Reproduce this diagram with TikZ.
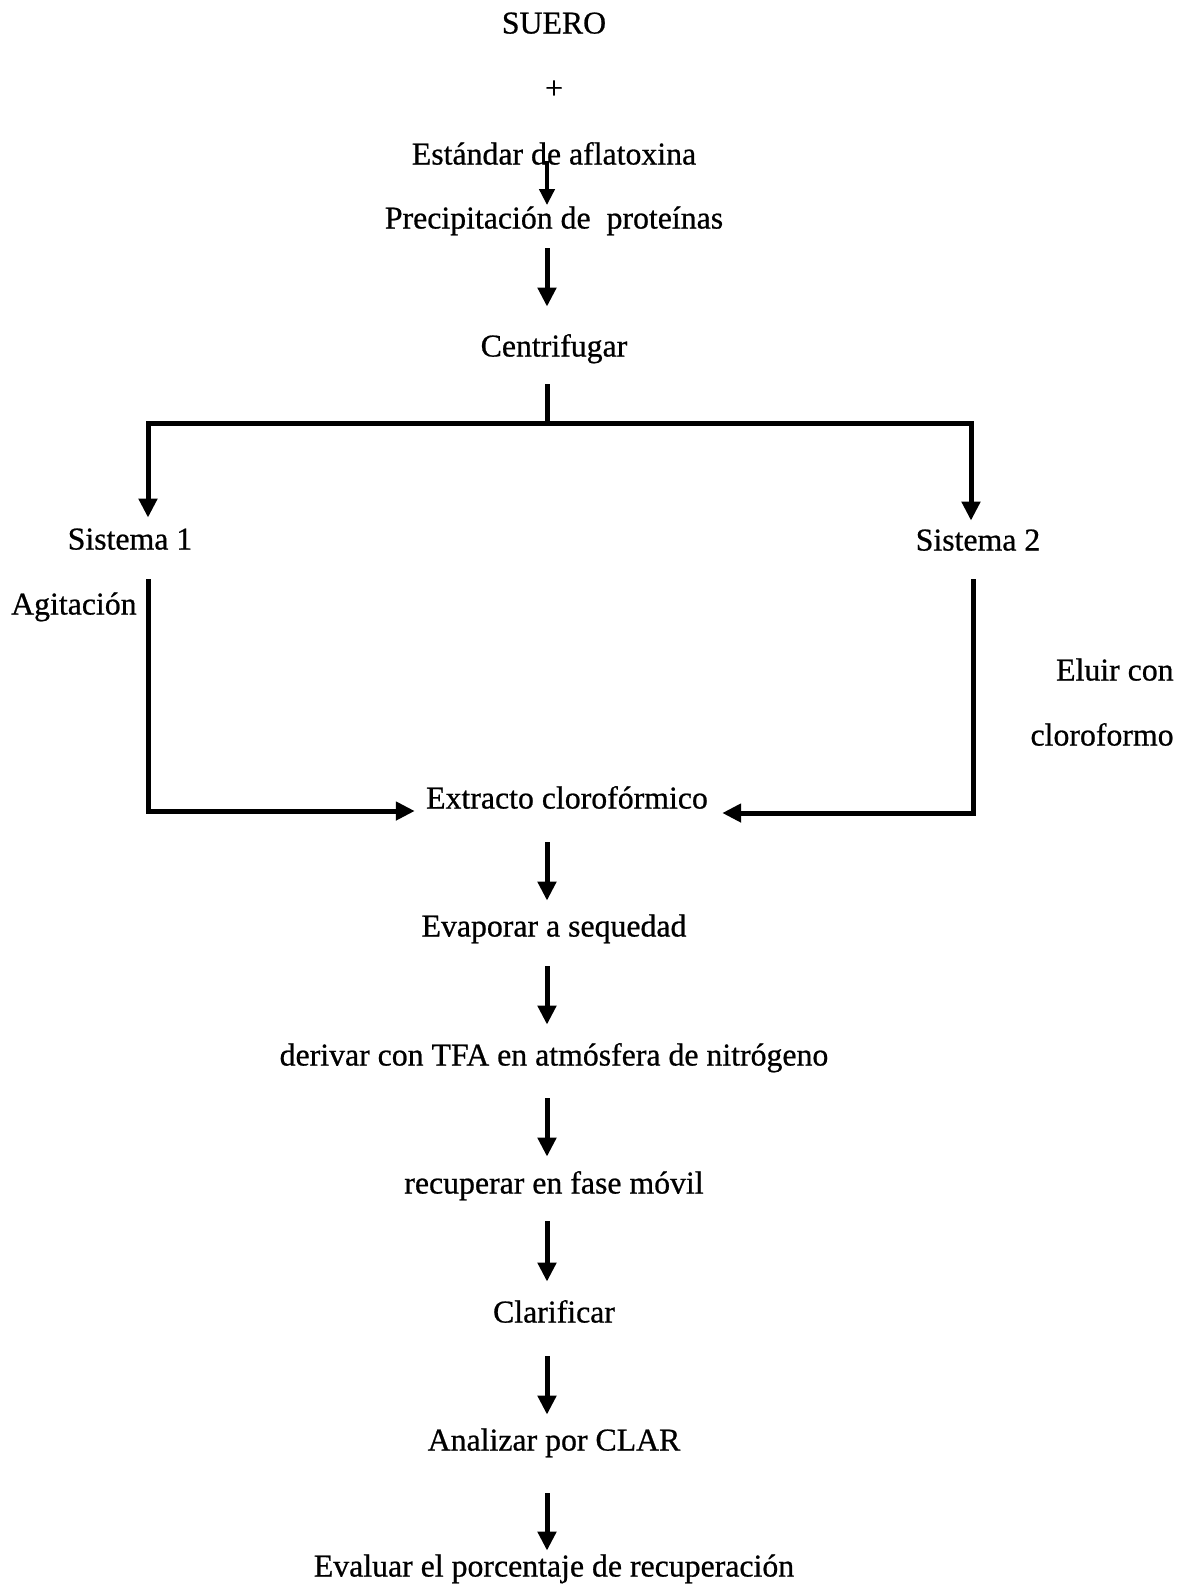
\documentclass[tikz,border=0pt]{standalone}
\usepackage{fontspec}
\setmainfont{Liberation Serif}[FakeBold=0.7]
\usetikzlibrary{arrows.meta}
\begin{document}
\begin{tikzpicture}[x=0.5pt,y=-0.5pt,
  lbl/.style={inner sep=0pt, text height=10.5pt, text depth=0pt, font=\fontsize{15.9pt}{19pt}\selectfont},
  line/.style={line width=2.5pt},
  arr/.style={line width=2.5pt, -{Triangle[width=9pt,length=9.5pt]}},
  arrboth/.style={line width=2.5pt, {Triangle[width=9pt,length=9.5pt]}-{Triangle[width=9pt,length=9.5pt]}},
  sarr/.style={line width=2pt, -{Triangle[width=7.5pt,length=8pt]}}
]
\useasboundingbox (0,0) rectangle (1193,1586);
\fill[white] (0,0) rectangle (1193,1586);

\node[lbl] (suero) at (554,23) {SUERO};
\node[lbl] (plus) at (554,88) {+};
\node[lbl] (est) at (554,154) {Estándar de aflatoxina};
\node[lbl] (prec) at (554,218) {Precipitación de\ \ proteínas};
\node[lbl] (cent) at (554,346) {Centrifugar};
\node[lbl] (s1) at (130,539) {Sistema 1};
\node[lbl] (s2) at (978,540) {Sistema 2};
\node[lbl,anchor=east] (agit) at (137,604) {Agitación};
\node[lbl,anchor=east] (eluir) at (1174,670) {Eluir con};
\node[lbl,anchor=east] (cloro) at (1174,735) {cloroformo};
\node[lbl] (ext) at (567,798) {Extracto clorofórmico};
\node[lbl] (evap) at (554,926) {Evaporar a sequedad};
\node[lbl] (deriv) at (554,1055) {derivar con TFA en atmósfera de nitrógeno};
\node[lbl] (recup) at (554,1183) {recuperar en fase móvil};
\node[lbl] (clar) at (554,1312) {Clarificar};
\node[lbl] (anal) at (554,1440) {Analizar por CLAR};
\node[lbl] (eval) at (554,1566) {Evaluar el porcentaje de recuperación};

\coordinate (jc) at (547,423);
\coordinate (jl) at (148,423);
\coordinate (jr) at (971,423);
\coordinate (l1) at (148,579);
\coordinate (l2) at (148,811);
\coordinate (r1) at (973,579);
\coordinate (r2) at (973,813);

\draw[sarr, shorten <=-2pt, shorten >=1pt] ([xshift=-3.5pt]est.south) -- ([xshift=-3.5pt]prec.north);
\draw[arr, shorten <=9.75pt, shorten >=14.25pt] ([xshift=-3.5pt]prec.south) -- ([xshift=-3.5pt]cent.north);
\draw[line, shorten <=13.75pt] ([xshift=-3.5pt]cent.south) -- (jc);
\draw[arrboth, shorten <=5.25pt, shorten >=4.25pt] (jl |- s1.north) -- (jl) -- (jr) -- (jr |- s2.north);
\draw[arr, shorten >=5.5pt] (l1) -- (l2) -- (l2 -| ext.west);
\draw[arr, shorten >=7pt] (r1) -- (r2) -- (r2 -| ext.east);
\draw[arr, shorten <=16.75pt, shorten >=7.25pt] ([xshift=-10pt]ext.south) -- ([xshift=-3.5pt]evap.north);
\draw[arr, shorten <=14.75pt, shorten >=9.75pt] ([xshift=-3.5pt]evap.south) -- ([xshift=-3.5pt]deriv.north);
\draw[arr, shorten <=16.25pt, shorten >=7.75pt] ([xshift=-3.5pt]deriv.south) -- ([xshift=-3.5pt]recup.north);
\draw[arr, shorten <=13.75pt, shorten >=9.75pt] ([xshift=-3.5pt]recup.south) -- ([xshift=-3.5pt]clar.north);
\draw[arr, shorten <=16.75pt, shorten >=7.25pt] ([xshift=-3.5pt]clar.south) -- ([xshift=-3.5pt]anal.north);
\draw[arr, shorten <=21.25pt, shorten >=2.25pt] ([xshift=-3.5pt]anal.south) -- ([xshift=-3.5pt]eval.north);
\end{tikzpicture}
\end{document}
